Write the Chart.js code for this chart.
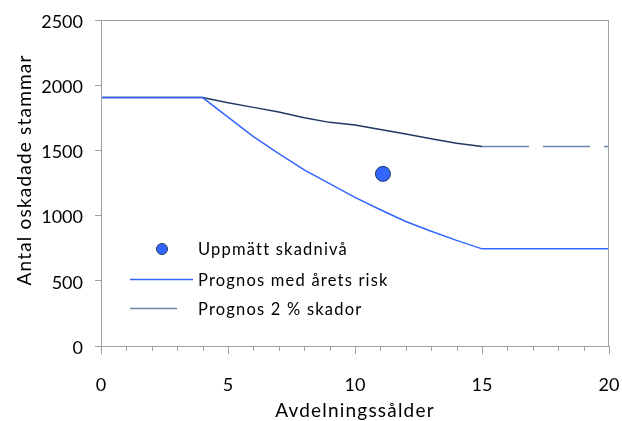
<!DOCTYPE html>
<html>
<head>
<meta charset="utf-8">
<script src="https://cdn.jsdelivr.net/npm/chart.js@4.4.1/dist/chart.umd.min.js"></script>
<style>
  html, body { margin: 0; padding: 0; background: #ffffff; }
  canvas { display: block; }
</style>
</head>
<body>
<canvas id="chart" width="622" height="421"></canvas>
<script>
// Dades llegides del gràfic
const ages = [0, 1, 2, 3, 4, 5, 6, 7, 8, 9, 10, 11, 12, 13, 14, 15, 16, 17, 18, 19, 20];
const prognosRisk = [1905, 1905, 1905, 1905, 1905, 1755, 1605, 1475, 1350, 1245, 1140, 1045, 955, 880, 810, 745, 745, 745, 745, 745, 745];
const prognos2 = [1905, 1905, 1905, 1905, 1905, 1865, 1830, 1795, 1750, 1715, 1695, 1660, 1625, 1590, 1555, 1530, 1530, 1530, 1530, 1530, 1530];
const measuredAge = [11.1];
const measuredValue = [1320];
const yTicks = [0, 500, 1000, 1500, 2000, 2500];
const xTicks = [0, 5, 10, 15, 20];

const seriesNames = ['Uppmätt skadnivå', 'Prognos med årets risk', 'Prognos 2 % skador'];
const yTitle = 'Antal oskadade stammar';
const xTitle = 'Avdelningssålder';

const FONT = 'Lato';
const AXIS = '#a0a0a0';
const BLUE = '#3366ff';
const NAVY = '#1f3864';
const NAVY_LIGHT = '#6a86aa';

const toXY = (xs, ys) => xs.map((x, i) => ({ x: x, y: ys[i] }));

// Vores, ticks menors, títols i llegenda dins l'àrea
const extras = {
  id: 'extras',
  afterDraw(chart) {
    const ctx = chart.ctx;
    const a = chart.chartArea;
    const xs = chart.scales.x;
    ctx.save();
    ctx.strokeStyle = AXIS;
    ctx.lineWidth = 1;
    ctx.strokeRect(a.left + 0.5, a.top + 0.5, a.right - a.left - 1, a.bottom - a.top);

    // ticks menors cada any
    ctx.beginPath();
    for (let v = 0; v <= 20; v++) {
      if (v % 5 === 0) continue;
      const px = Math.round(xs.getPixelForValue(v)) + 0.5;
      ctx.moveTo(px, a.bottom);
      ctx.lineTo(px, a.bottom + 5);
    }
    ctx.stroke();

    // títols dels eixos
    ctx.fillStyle = '#000';
    ctx.font = '19px ' + FONT;
    ctx.letterSpacing = '1.2px';
    ctx.textAlign = 'center';
    ctx.textBaseline = 'alphabetic';
    ctx.fillText(xTitle, (a.left + a.right) / 2, 417);

    ctx.translate(31, 170);
    ctx.rotate(-Math.PI / 2);
    ctx.fillText(yTitle, 0, 0);
    ctx.setTransform(1, 0, 0, 1, 0, 0);
    ctx.restore();

    // llegenda
    ctx.save();
    ctx.font = '16.5px ' + FONT;
    ctx.letterSpacing = '1.2px';
    ctx.textBaseline = 'alphabetic';
    ctx.textAlign = 'left';
    const tx = 198;
    const rows = [249, 279.5, 308.5];

    ctx.beginPath();
    ctx.arc(162, rows[0], 5.5, 0, Math.PI * 2);
    ctx.fillStyle = BLUE;
    ctx.fill();
    ctx.strokeStyle = NAVY;
    ctx.lineWidth = 1;
    ctx.stroke();

    ctx.lineWidth = 1.5;
    ctx.strokeStyle = BLUE;
    ctx.beginPath();
    ctx.moveTo(130, rows[1]);
    ctx.lineTo(193, rows[1]);
    ctx.stroke();

    ctx.strokeStyle = NAVY_LIGHT;
    ctx.beginPath();
    ctx.moveTo(130, rows[2]);
    ctx.lineTo(177, rows[2]);
    ctx.stroke();

    ctx.fillStyle = '#000';
    seriesNames.forEach((name, i) => ctx.fillText(name, tx, rows[i] + 6));
    ctx.restore();
  }
};

new Chart(document.getElementById('chart'), {
  type: 'scatter',
  data: {
    datasets: [
      {
        label: seriesNames[0],
        data: toXY(measuredAge, measuredValue),
        showLine: false,
        pointRadius: 7.5,
        pointBackgroundColor: BLUE,
        pointBorderColor: NAVY,
        pointBorderWidth: 1
      },
      {
        label: seriesNames[1],
        data: toXY(ages, prognosRisk),
        showLine: true,
        borderColor: BLUE,
        borderWidth: 1.5,
        pointRadius: 0,
        tension: 0
      },
      {
        label: seriesNames[2],
        data: toXY(ages, prognos2),
        showLine: true,
        borderColor: NAVY,
        borderWidth: 1.5,
        pointRadius: 0,
        tension: 0,
        segment: {
          borderDash: c => c.p0.parsed.x >= 15 ? [47, 14] : undefined,
          borderColor: c => c.p0.parsed.x >= 15 ? NAVY_LIGHT : undefined
        }
      }
    ]
  },
  options: {
    responsive: false,
    animation: false,
    devicePixelRatio: 1,
    layout: { padding: { left: 0, right: 13, top: 20, bottom: 0 } },
    plugins: {
      legend: { display: false },
      tooltip: { enabled: false }
    },
    scales: {
      x: {
        type: 'linear',
        min: 0,
        max: 20,
        afterBuildTicks: s => { s.ticks = xTicks.map(v => ({ value: v })); },
        afterFit: s => { s.height = 75; s.paddingLeft = 0; s.paddingRight = 0; },
        grid: { drawOnChartArea: false, drawTicks: true, tickLength: 8, color: AXIS },
        border: { display: true, color: AXIS },
        ticks: { color: '#000', font: { family: FONT, size: 18 }, padding: 20, maxRotation: 0, callback: v => String(v) }
      },
      y: {
        type: 'linear',
        min: 0,
        max: 2500,
        afterBuildTicks: s => { s.ticks = yTicks.map(v => ({ value: v })); },
        afterFit: s => { s.width = 101; s.paddingTop = 0; s.paddingBottom = 0; },
        grid: { drawOnChartArea: false, drawTicks: true, tickLength: 6, color: AXIS },
        border: { display: true, color: AXIS },
        ticks: { color: '#000', font: { family: FONT, size: 18 }, padding: 12, labelOffset: 2, callback: v => String(v) }
      }
    }
  },
  plugins: [extras]
});
</script>
</body>
</html>
